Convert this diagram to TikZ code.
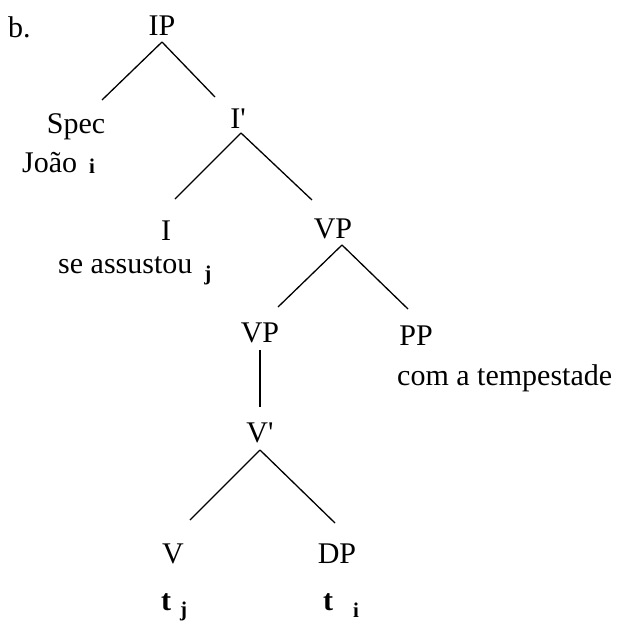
\documentclass[tikz,border=0pt]{standalone}
\usepackage{fontspec}
\setmainfont{Liberation Serif}[Ligatures=TeXOff]
\usetikzlibrary{calc}
\newcommand{\idx}[2]{{\fontsize{21}{21}\selectfont\bfseries\raisebox{#2}{#1}}}

\begin{document}
\begin{tikzpicture}[x=1pt,y=1pt,
  lbl/.style={inner sep=0pt, anchor=base, font=\fontsize{30}{36}\selectfont},
  branch/.style={line width=1.3pt}]
\useasboundingbox (0,0) rectangle (621,-624);

\node[lbl, anchor=base west] (b) at (8,-37) {b.};
\node[lbl] (IP) at (162,-35) {IP};
\node[lbl] (Spec) at (76,-133) {Spec};
\node[lbl, anchor=base west] (Joao) at (22,-172) {João\hspace{12pt}\idx{i}{-1pt}};
\node[lbl] (Ibar) at (238,-128) {I'};
\node[lbl] (I) at (166,-240) {I};
\node[lbl, anchor=base west] (seass) at (58,-273) {se assustou\hspace{12pt}\idx{j}{-7pt}};
\node[lbl] (VP) at (333,-238) {VP};
\node[lbl] (VPl) at (260,-342) {VP};
\node[lbl] (PP) at (416,-345) {PP};
\node[lbl, anchor=base west] (tempest) at (397,-385) {com a tempestade};
\node[lbl] (Vbar) at (260,-442) {V'};
\node[lbl] (V) at (173,-563) {V};
\node[lbl] (DP) at (337,-563) {DP};
\node[lbl, anchor=base west] (tj) at (161,-610) {\textbf{t}\hspace{9pt}\idx{j}{-6pt}};
\node[lbl, anchor=base west] (ti) at (323,-610) {\textbf{t}\hspace{20pt}\idx{i}{-7pt}};

\draw[branch] ($(IP.base)+(0,-7)$) -- ($(Spec.base)+(26,33)$);
\draw[branch] ($(IP.base)+(0,-7)$) -- ($(Ibar.base)+(-23,31)$);
\draw[branch] ($(Ibar.base)+(3,-5)$) -- ($(I.base)+(9,41)$);
\draw[branch] ($(Ibar.base)+(3,-5)$) -- ($(VP.base)+(-21,38)$);
\draw[branch] ($(VP.base)+(9,-7)$) -- ($(VPl.base)+(18,35)$);
\draw[branch] ($(VP.base)+(9,-7)$) -- ($(PP.base)+(-8,36)$);
\draw[branch] ($(VPl.base)+(0,-8)$) -- ($(Vbar.base)+(0,35)$);
\draw[branch] ($(Vbar.base)+(0,-8)$) -- ($(V.base)+(17,43)$);
\draw[branch] ($(Vbar.base)+(0,-8)$) -- ($(DP.base)+(-2,40)$);
\end{tikzpicture}
\end{document}
